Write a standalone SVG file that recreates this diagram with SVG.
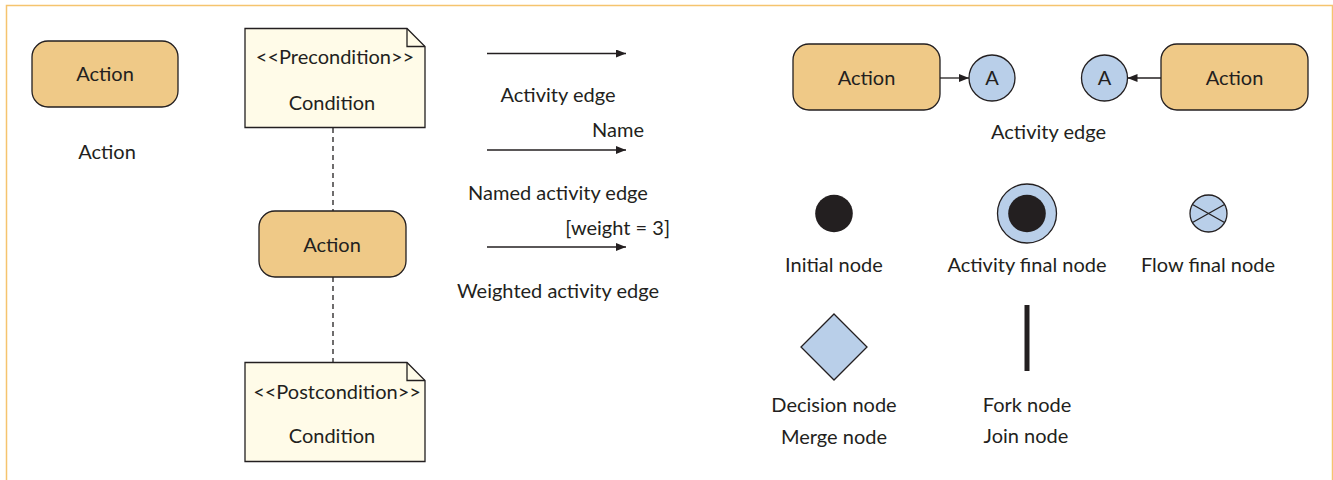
<svg xmlns="http://www.w3.org/2000/svg" width="1333" height="480" viewBox="0 0 1333 480">
<style>
text{font-family:Lato,"Liberation Sans",sans-serif;font-size:20px;fill:#231f20;text-anchor:middle}
.end{text-anchor:end}
.act{fill:#efc987;stroke:#231f20;stroke-width:1.3}
.note{fill:#fffbe8;stroke:#231f20;stroke-width:1.3}
.blue{fill:#b9cfe9;stroke:#231f20;stroke-width:1.3}
.edge{stroke:#231f20;stroke-width:1.3;fill:none}
.dash{stroke:#231f20;stroke-width:1.3;stroke-dasharray:5,4;fill:none}
</style>
<defs>
<marker id="ah" markerWidth="10" markerHeight="8" refX="10" refY="4" orient="auto" markerUnits="userSpaceOnUse">
<path d="M0,0 L10,4 L0,8 Z" fill="#231f20"/>
</marker>
</defs>
<rect x="0" y="0" width="1333" height="480" fill="#fff"/>
<path d="M6.5,490 V5.5 H1332.5 V490" fill="none" stroke="#f5c46e" stroke-width="1.5"/>

<g id="connectors">
<line class="dash" x1="333" y1="128" x2="333" y2="211"/>
<line class="dash" x1="333" y1="277" x2="333" y2="362"/>
<line class="edge" x1="487" y1="53.5" x2="626" y2="53.5" marker-end="url(#ah)"/>
<line class="edge" x1="487" y1="150" x2="626" y2="150" marker-end="url(#ah)"/>
<line class="edge" x1="487" y1="247" x2="626" y2="247" marker-end="url(#ah)"/>
<line class="edge" x1="940" y1="78" x2="969" y2="78" marker-end="url(#ah)"/>
<line class="edge" x1="1161" y1="78" x2="1127.5" y2="78" marker-end="url(#ah)"/>
</g>

<g id="action1">
<rect class="act" x="32" y="41" width="146" height="66" rx="16"/>
<text x="105" y="81">Action</text>
</g>
<g id="action1-label"><text x="107" y="159">Action</text></g>

<g id="precondition">
<path class="note" d="M245,28.5 H407 L425,46.5 V127.5 H245 Z"/>
<path class="edge" d="M407,28.5 V46.5 H425"/>
<text x="335" y="64">&lt;&lt;Precondition&gt;&gt;</text>
<text x="332" y="110">Condition</text>
</g>

<g id="action2">
<rect class="act" x="259" y="211" width="147" height="66" rx="16"/>
<text x="332" y="252">Action</text>
</g>

<g id="postcondition">
<path class="note" d="M245,362.5 H407 L425,380.5 V461.5 H245 Z"/>
<path class="edge" d="M407,362.5 V380.5 H425"/>
<text x="337" y="399">&lt;&lt;Postcondition&gt;&gt;</text>
<text x="332" y="443">Condition</text>
</g>

<g id="edge-labels">
<text x="558" y="102">Activity edge</text>
<text x="644" y="137" class="end">Name</text>
<text x="558" y="200">Named activity edge</text>
<text x="670" y="235" class="end">[weight = 3]</text>
<text x="558" y="298">Weighted activity edge</text>
</g>

<g id="action3">
<rect class="act" x="793" y="44" width="147" height="66" rx="16"/>
<text x="866.5" y="85">Action</text>
</g>
<g id="connectorA1">
<circle class="blue" cx="992" cy="78" r="23"/>
<text x="992" y="85">A</text>
</g>
<g id="connectorA2">
<circle class="blue" cx="1104.5" cy="78" r="23"/>
<text x="1104.5" y="85">A</text>
</g>
<g id="action4">
<rect class="act" x="1161" y="44" width="147" height="66" rx="16"/>
<text x="1234.5" y="85">Action</text>
</g>
<g id="activity-edge-label"><text x="1048.5" y="139">Activity edge</text></g>

<g id="initial-node">
<circle cx="834" cy="213.5" r="18.8" fill="#231f20"/>
<text x="834" y="272">Initial node</text>
</g>
<g id="activity-final-node">
<circle class="blue" cx="1027" cy="213.5" r="29.5"/>
<circle cx="1027" cy="213.5" r="18.8" fill="#231f20"/>
<text x="1027" y="272">Activity final node</text>
</g>
<g id="flow-final-node">
<circle class="blue" cx="1208.5" cy="213.5" r="18.5"/>
<path class="edge" d="M1192.5,204.5 L1224.5,222.5 M1192.5,222.5 L1224.5,204.5"/>
<text x="1208" y="272">Flow final node</text>
</g>

<g id="decision-node">
<path class="blue" d="M834,314 L867,347 L834,380 L801,347 Z"/>
<text x="834" y="412">Decision node</text>
<text x="834" y="444">Merge node</text>
</g>
<g id="fork-node">
<rect x="1024.5" y="305" width="5" height="66" fill="#231f20"/>
<text x="1027" y="412">Fork node</text>
<text x="1026" y="443">Join node</text>
</g>
</svg>
